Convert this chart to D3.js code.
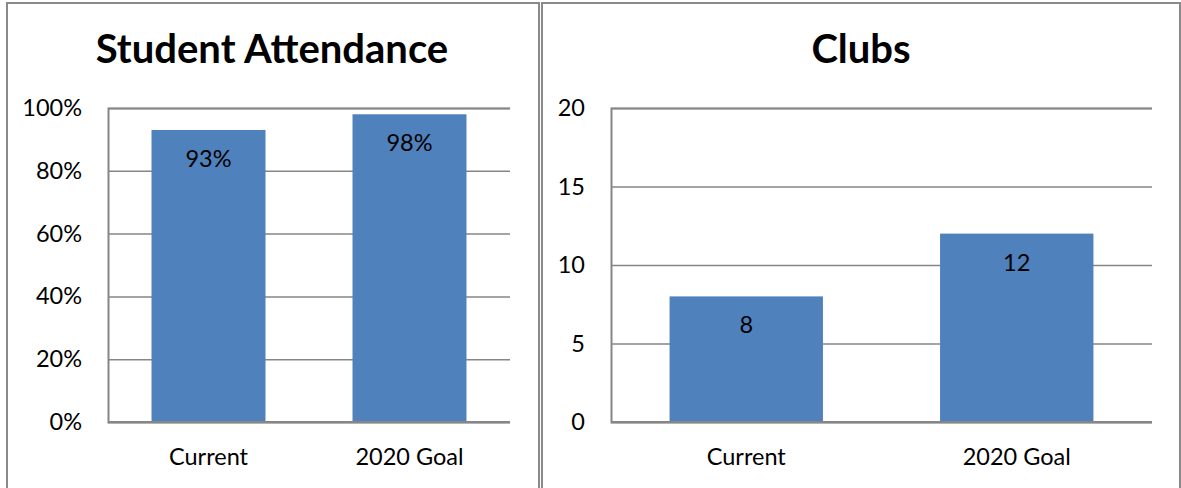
<!DOCTYPE html>
<html><head><meta charset="utf-8">
<script src="https://cdn.jsdelivr.net/npm/d3@7"></script>
<style>
html,body{margin:0;padding:0;background:#fff;}
svg{display:block;font-family:Lato, "Open Sans", sans-serif;}
</style></head>
<body>
<svg id="c" width="1181" height="488"></svg>
<script>
const categories = ["Current", "2020 Goal"];
const attendanceValues = [0.93, 0.98];
const attendanceTicks = [0, 0.2, 0.4, 0.6, 0.8, 1.0];
const clubsValues = [8, 12];
const clubsTicks = [0, 5, 10, 15, 20];

const svg = d3.select("#c");
const grid = "#868686";
const barColor = "#4F81BD";
const fs = 23.5;

// panel frames
svg.append("rect").attr("x",7).attr("y",3).attr("width",532).attr("height",500)
  .attr("fill","none").attr("stroke","#8a8a8a").attr("stroke-width",2);
svg.append("rect").attr("x",542).attr("y",3).attr("width",638).attr("height",500)
  .attr("fill","none").attr("stroke","#8a8a8a").attr("stroke-width",2);

function panel(opt){
  const g = svg.append("g");
  const x = d3.scaleBand().domain(categories).range([opt.x0, opt.x1]).paddingInner(0.433).paddingOuter(0.2165);
  const y = d3.scaleLinear().domain([0, opt.max]).range([422, 108]);
  // title
  g.append("text").attr("x", opt.tx).attr("y", 63).attr("text-anchor","middle")
    .attr("font-size", 40).attr("font-weight", 700).attr("fill","#000").text(opt.title);
  // gridlines
  const yAxis = d3.axisLeft(y).tickValues(opt.ticks).tickFormat(opt.fmt).tickSize(-(opt.x1-opt.x0)).tickPadding(26);
  const ga = g.append("g").attr("transform",`translate(${opt.x0},0)`).call(yAxis);
  ga.select(".domain").attr("stroke", grid).attr("stroke-width",2);
  ga.selectAll(".tick line").attr("stroke", grid).attr("stroke-width",1.5);
  ga.selectAll(".tick text").attr("font-size",fs).attr("fill","#000").attr("font-family","Lato, 'Open Sans', sans-serif");
  // bars
  g.selectAll("rect.bar").data(opt.values).enter().append("rect").attr("class","bar")
    .attr("x",(d,i)=>x(categories[i])).attr("width",x.bandwidth())
    .attr("y",d=>y(d)).attr("height",d=>422-y(d)).attr("fill",barColor);
  // baseline
  g.append("line").attr("x1",opt.x0).attr("x2",opt.x1).attr("y1",422).attr("y2",422)
    .attr("stroke",grid).attr("stroke-width",2);
  // value labels
  g.selectAll("text.val").data(opt.values).enter().append("text").attr("class","val")
    .attr("x",(d,i)=>x(categories[i])+x.bandwidth()/2).attr("y",d=>y(d)+37)
    .attr("text-anchor","middle").attr("font-size",fs).attr("fill","#000").text(opt.fmt);
  // category labels
  const xAxis = d3.axisBottom(x).tickSize(0).tickPadding(26);
  const gx = g.append("g").attr("transform","translate(0,422)").call(xAxis);
  gx.select(".domain").remove();
  gx.selectAll(".tick text").attr("font-size",fs).attr("fill","#000").attr("font-family","Lato, 'Open Sans', sans-serif");
}

panel({x0:108, x1:510, max:1, ticks:attendanceTicks, values:attendanceValues,
  fmt:d3.format(".0%"), title:"Student Attendance", tx:272});
panel({x0:611, x1:1152, max:20, ticks:clubsTicks, values:clubsValues,
  fmt:d3.format("d"), title:"Clubs", tx:861});
</script>
</body></html>
